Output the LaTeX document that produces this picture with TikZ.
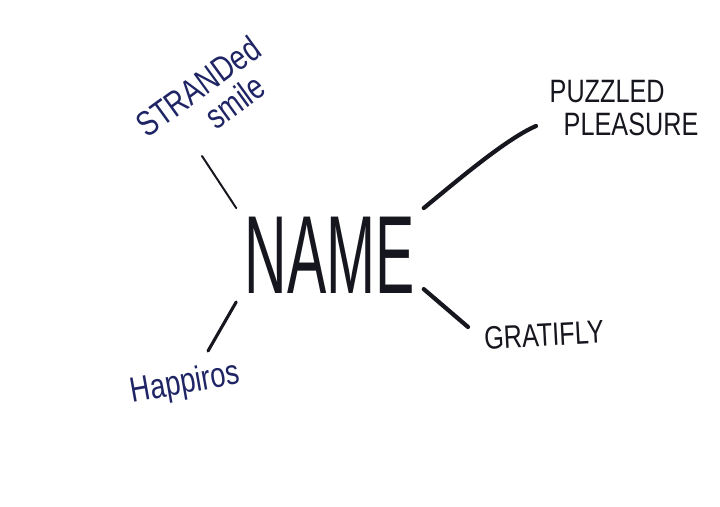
\documentclass[tikz,border=0pt]{standalone}
\usepackage{fontspec}
\setmainfont{Liberation Sans}
\newfontfamily\namefont[FakeStretch=0.53]{Liberation Sans}
\newfontfamily\handfont[FakeStretch=0.78]{Liberation Sans}
\usepackage{xcolor}
\usepackage{tikz}
\usetikzlibrary{positioning}
\definecolor{inkblack}{RGB}{22,22,30}
\definecolor{inknavy}{RGB}{30,36,100}

\begin{document}
\begin{tikzpicture}[
    x=0.025cm, y=-0.025cm,
    central/.style={inner sep=6pt, text=inkblack, font=\namefont\fontsize{79}{80}\selectfont},
    idea/.style={inner sep=0pt, text=inkblack, font=\handfont\fontsize{23}{23}\selectfont},
    scribble/.style={inner sep=0pt, text=inknavy, font=\handfont\fontsize{25}{24}\selectfont},
    branch/.style={draw=inkblack, line width=3pt, line cap=round}
]
    \useasboundingbox[fill=white] (0,0) rectangle (720,506);

    % Nodes
    \node[central] (name) at (330,255) {NAME};
    \node[scribble, rotate=36, align=center] (stranded) at (208,100) {STRANDed\\\hspace*{30pt}smile};
    \node[idea, align=left] (puzzled) at (624,108) {PUZZLED\\\hspace*{10pt}PLEASURE};
    \node[idea, rotate=3] (gratifly) at (544,335) {GRATIFLY};
    \node[scribble, rotate=10] (happiros) at (185,384) {Happiros};

    % Branch ends
    \coordinate (stranded-end) at (202,156);
    \coordinate (puzzled-end) at (536,126);
    \coordinate (gratifly-end) at (468,327);
    \coordinate (happiros-end) at (208,351);

    % Connections
    \draw[branch, line width=1.4pt] (name.north west) -- (stranded-end);
    \draw[branch] (name.north east) .. controls (458,180) and (506,139) .. (puzzled-end);
    \draw[branch] (name.-20) -- (gratifly-end);
    \draw[branch, line width=2.2pt] (name.south west) -- (happiros-end);
\end{tikzpicture}
\end{document}
